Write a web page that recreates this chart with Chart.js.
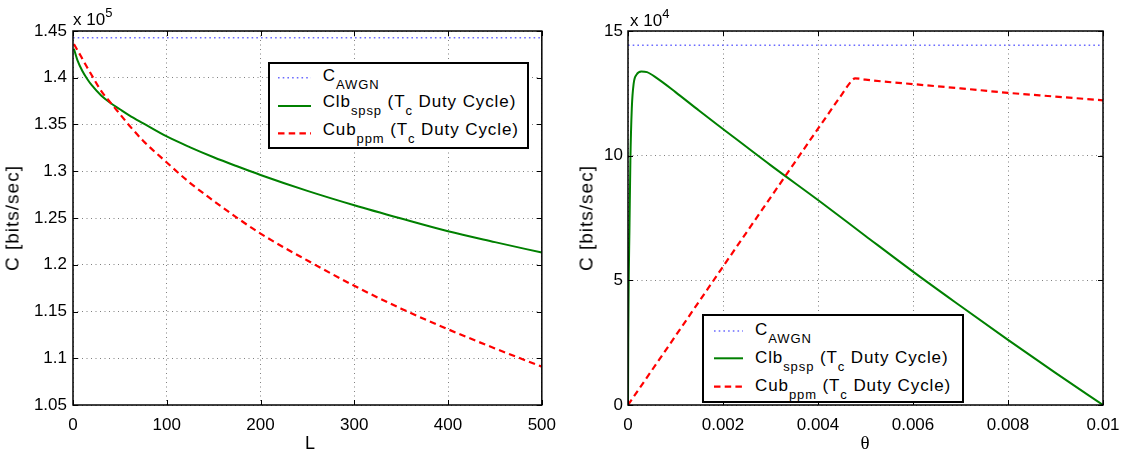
<!DOCTYPE html>
<html>
<head>
<meta charset="utf-8">
<script src="https://cdn.jsdelivr.net/npm/chart.js@4.4.1/dist/chart.umd.min.js"></script>
<style>
  html, body { margin:0; padding:0; background:#fff; }
  #wrap { position:relative; width:1133px; height:450px; overflow:hidden; font-family:"Liberation Sans", Arial, Helvetica, sans-serif; color:#000; }
  canvas { position:absolute; top:0; }
  #cL { left:0; }
  #cR { left:566px; }
  .mult { position:absolute; font-size:17px; line-height:17px; white-space:nowrap; }
  .mult .sup { font-size:13px; line-height:1; position:relative; top:-8px; }
  .legend { position:absolute; background:#fff; border:2px solid #000; box-sizing:border-box; }
  .legend svg { position:absolute; left:0; top:0; }
  .lrow { position:absolute; font-size:17px; line-height:17px; white-space:nowrap; letter-spacing:0.9px; }
  .lrow .s { font-size:13px; line-height:1; position:relative; top:8px; }
  .atitle { position:absolute; white-space:nowrap; font-size:19px; line-height:19px; letter-spacing:1px; transform:translate(-50%,-50%); }
  .atitle.v { transform:translate(-50%,-50%) rotate(-90deg); }
</style>
</head>
<body>
<div id="wrap">
  <canvas id="cL" width="566" height="450"></canvas>
  <canvas id="cR" width="567" height="450"></canvas>

  <div class="mult" style="left:73px;top:10.6px;">x 10<span class="sup">5</span></div>
  <div class="mult" style="left:630px;top:11.6px;">x 10<span class="sup">4</span></div>

  <div class="atitle v" style="left:12px;top:218px;">C [bits/sec]</div>
  <div class="atitle v" style="left:586px;top:218px;">C [bits/sec]</div>
  <div class="atitle" style="left:310.5px;top:443px;font-size:18px;">L</div>
  <div class="atitle" style="left:865.5px;top:442px;font-size:19px;font-family:'Liberation Serif','DejaVu Serif',serif;">θ</div>

  <div class="legend" style="left:268px;top:62px;width:261px;height:87px;">
    <svg width="257" height="83">
      <line x1="8" y1="13.7" x2="41" y2="13.7" stroke="#6b6bff" stroke-width="1.5" stroke-dasharray="1.6 3.1"/>
      <line x1="8" y1="42" x2="41" y2="42" stroke="#008000" stroke-width="2"/>
      <line x1="8" y1="69.3" x2="41" y2="69.3" stroke="#ff0000" stroke-width="2.2" stroke-dasharray="6.5 4.2"/>
    </svg>
    <div class="lrow" style="left:52.7px;top:3.3px;">C<span class="s">AWGN</span></div>
    <div class="lrow" style="left:52.7px;top:28.9px;">Clb<span class="s">spsp</span> (T<span class="s">c</span> Duty Cycle)</div>
    <div class="lrow" style="left:52.7px;top:56.6px;">Cub<span class="s">ppm</span> (T<span class="s">c</span> Duty Cycle)</div>
  </div>

  <div class="legend" style="left:702px;top:314px;width:262px;height:89px;">
    <svg width="258" height="85">
      <line x1="10" y1="15" x2="39" y2="15" stroke="#6b6bff" stroke-width="1.5" stroke-dasharray="1.6 3.1"/>
      <line x1="10" y1="42.3" x2="39" y2="42.3" stroke="#008000" stroke-width="2"/>
      <line x1="10" y1="70.7" x2="39" y2="70.7" stroke="#ff0000" stroke-width="2.2" stroke-dasharray="6.5 4.2"/>
    </svg>
    <div class="lrow" style="left:51px;top:4.6px;">C<span class="s">AWGN</span></div>
    <div class="lrow" style="left:51px;top:32.9px;">Clb<span class="s">spsp</span> (T<span class="s">c</span> Duty Cycle)</div>
    <div class="lrow" style="left:51px;top:60.6px;">Cub<span class="s">ppm</span> (T<span class="s">c</span> Duty Cycle)</div>
  </div>
</div>

<script>
// ---------------- data: left panel (values x 10^5) ----------------
const leftL     = [1, 5, 10, 15, 20, 30, 40, 50, 60, 75, 100, 125, 150, 175, 200, 250, 300, 350, 400, 450, 500];
const leftClb   = [1.431, 1.418, 1.4073, 1.399, 1.392, 1.381, 1.373, 1.3663, 1.3598, 1.3512, 1.3372, 1.3256, 1.315, 1.3053, 1.296, 1.279, 1.2636, 1.2494, 1.2358, 1.2242, 1.213];
const leftCub   = [1.436, 1.4291, 1.4202, 1.4113, 1.4026, 1.386, 1.3734, 1.3612, 1.349, 1.3324, 1.3094, 1.2874, 1.2683, 1.2502, 1.2333, 1.2045, 1.1775, 1.153, 1.131, 1.1105, 1.091];
const leftAwgnL = [0, 500];
const leftAwgn  = [1.4427, 1.4427];
const leftXTicks  = [0, 100, 200, 300, 400, 500];
const leftXLabels = ['0', '100', '200', '300', '400', '500'];
const leftYTicks  = [1.05, 1.1, 1.15, 1.2, 1.25, 1.3, 1.35, 1.4, 1.45];
const leftYLabels = ['1.05', '1.1', '1.15', '1.2', '1.25', '1.3', '1.35', '1.4', '1.45'];

// ---------------- data: right panel (values x 10^4) ----------------
const rightThetaClb = [0, 0.000005, 0.000015, 0.00003, 0.00005, 0.00008, 0.00012, 0.00018, 0.00028, 0.0004, 0.0006, 0.001, 0.0015, 0.002, 0.003, 0.004, 0.005, 0.006, 0.007, 0.008, 0.009, 0.01];
const rightClb      = [0, 2.5, 5.0, 7.0, 9.8, 11.9, 12.9, 13.25, 13.38, 13.35, 13.12, 12.55, 11.8, 11.07, 9.62, 8.22, 6.78, 5.35, 3.97, 2.61, 1.29, 0];
const rightThetaCub = [0, 0.001, 0.002, 0.003, 0.004, 0.0045, 0.0047, 0.00478, 0.0049, 0.005, 0.006, 0.007, 0.008, 0.009, 0.01];
const rightCub      = [0, 2.77, 5.55, 8.32, 11.08, 12.45, 12.98, 13.1, 13.08, 13.05, 12.87, 12.7, 12.52, 12.37, 12.22];
const rightAwgnTheta = [0, 0.01];
const rightAwgn      = [14.427, 14.427];
const rightXTicks  = [0, 0.002, 0.004, 0.006, 0.008, 0.01];
const rightXLabels = ['0', '0.002', '0.004', '0.006', '0.008', '0.01'];
const rightYTicks  = [0, 5, 10, 15];
const rightYLabels = ['0', '5', '10', '15'];

const FONT = '"Liberation Sans", Arial, Helvetica, sans-serif';
Chart.defaults.font.family = FONT;
Chart.defaults.font.size = 17;
Chart.defaults.color = '#000';

const frame = {
  id: 'frame',
  afterDatasetsDraw(chart) {
    const {ctx, chartArea: a, scales: {x, y}} = chart;
    ctx.save();
    ctx.strokeStyle = '#000';
    ctx.lineWidth = 1;
    ctx.setLineDash([]);
    ctx.beginPath();
    x.ticks.forEach(t => {
      const px = Math.round(x.getPixelForValue(t.value)) + 0.5;
      ctx.moveTo(px, a.bottom); ctx.lineTo(px, a.bottom - 5);
      ctx.moveTo(px, a.top); ctx.lineTo(px, a.top + 5);
    });
    y.ticks.forEach(t => {
      const py = Math.round(y.getPixelForValue(t.value)) + 0.5;
      ctx.moveTo(a.left, py); ctx.lineTo(a.left + 5, py);
      ctx.moveTo(a.right, py); ctx.lineTo(a.right - 5, py);
    });
    ctx.stroke();
    ctx.lineWidth = 1.5;
    ctx.strokeRect(a.left, a.top, a.right - a.left, a.bottom - a.top);
    ctx.restore();
  }
};

function pts(xs, ys) { return xs.map((v, i) => ({x: v, y: ys[i]})); }

function makeChart(id, o) {
  return new Chart(document.getElementById(id), {
    type: 'line',
    data: {
      datasets: [
        {data: pts(o.awgnX, o.awgn), borderColor: '#6b6bff', borderWidth: 1.5, borderDash: [1.6, 3.1], order: 3},
        {data: pts(o.clbX, o.clb), borderColor: '#008000', borderWidth: 2, order: 2, cubicInterpolationMode: 'monotone'},
        {data: pts(o.cubX, o.cub), borderColor: '#ff0000', borderWidth: 2.2, borderDash: [6.5, 4.2], order: 1, cubicInterpolationMode: 'monotone'}
      ]
    },
    options: {
      responsive: false,
      animation: false,
      devicePixelRatio: 1,
      layout: {padding: {top: 31, right: o.padRight, bottom: 0, left: 0}},
      elements: {point: {radius: 0}, line: {fill: false}},
      plugins: {legend: {display: false}, tooltip: {enabled: false}},
      scales: {
        x: {
          type: 'linear', min: o.xMin, max: o.xMax,
          afterBuildTicks: s => { s.ticks = o.xTicks.map(v => ({value: v})); },
          ticks: {callback: (v, i) => o.xLabels[i], padding: 10, maxRotation: 0, autoSkip: false, color: '#000', font: {size: 17}},
          grid: {color: '#808080', lineWidth: 1, drawTicks: false},
          border: {display: false, dash: [1, 3.5]},
          title: {display: false},
          afterFit: s => { s.height = 45; }
        },
        y: {
          type: 'linear', min: o.yMin, max: o.yMax,
          afterBuildTicks: s => { s.ticks = o.yTicks.map(v => ({value: v})); },
          ticks: {callback: (v, i) => o.yLabels[i], padding: o.yPad, autoSkip: false, color: '#000', font: {size: 17}},
          grid: {color: '#808080', lineWidth: 1, drawTicks: false},
          border: {display: false, dash: [1, 3.5]},
          title: {display: false},
          afterFit: s => { s.width = o.yWidth; }
        }
      }
    },
    plugins: [frame]
  });
}

makeChart('cL', {
  awgnX: leftAwgnL, awgn: leftAwgn, clbX: leftL, clb: leftClb, cubX: leftL, cub: leftCub,
  xMin: 0, xMax: 500, xTicks: leftXTicks, xLabels: leftXLabels,
  yMin: 1.05, yMax: 1.45, yTicks: leftYTicks, yLabels: leftYLabels,
  yWidth: 73, yPad: 6, padRight: 18
});

makeChart('cR', {
  awgnX: rightAwgnTheta, awgn: rightAwgn, clbX: rightThetaClb, clb: rightClb, cubX: rightThetaCub, cub: rightCub,
  xMin: 0, xMax: 0.01, xTicks: rightXTicks, xLabels: rightXLabels,
  yMin: 0, yMax: 15, yTicks: rightYTicks, yLabels: rightYLabels,
  yWidth: 62, yPad: 5, padRight: 30
});
</script>
</body>
</html>
